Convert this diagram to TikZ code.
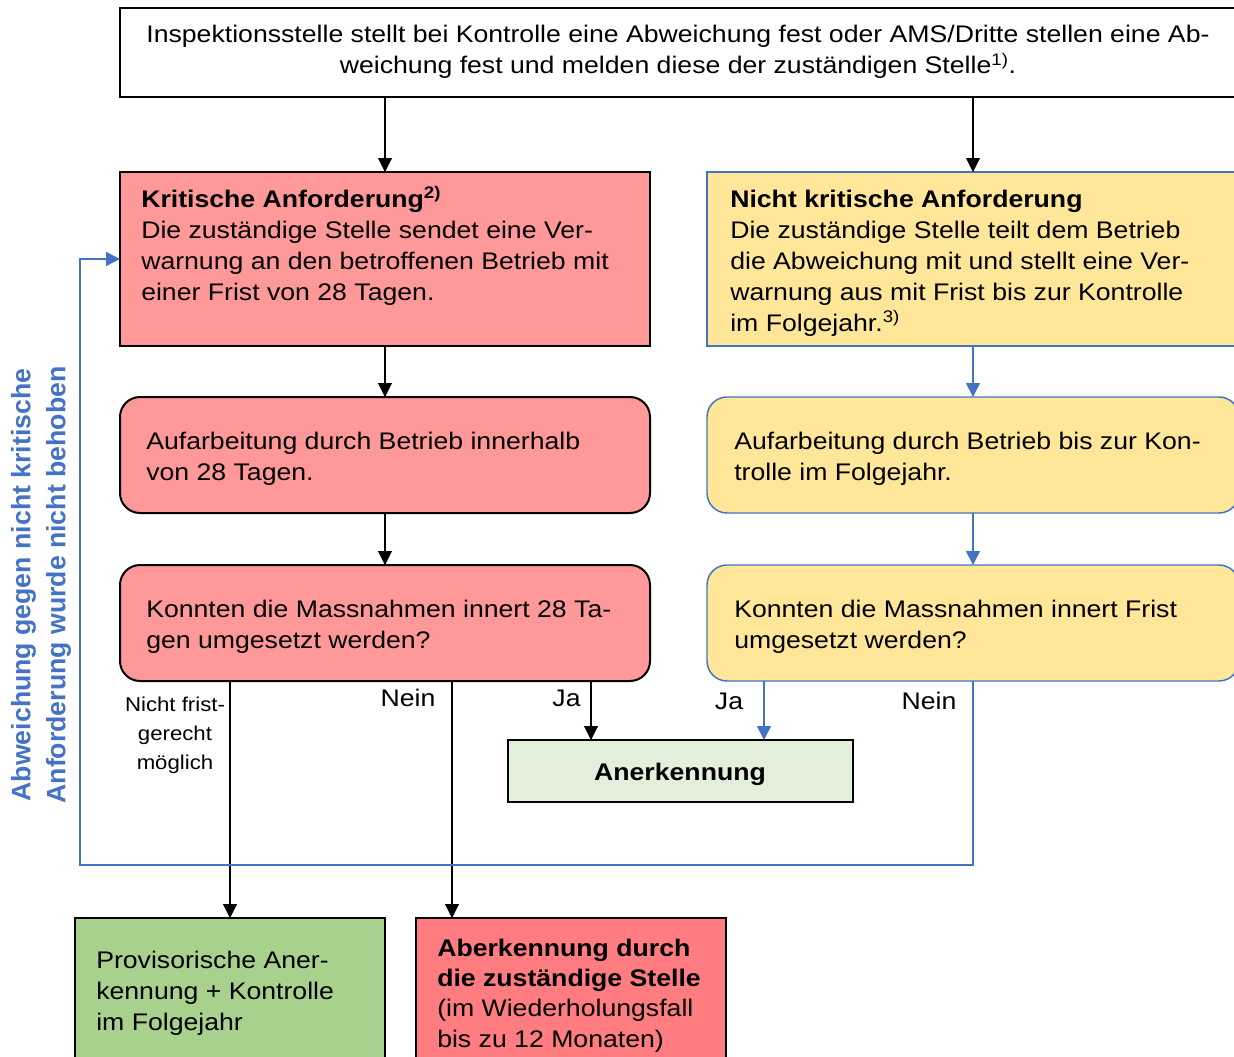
\documentclass[tikz,border=0pt]{standalone}
\usepackage{fontspec}
\setmainfont{Liberation Sans}[FakeStretch=1.11]
\newfontfamily\sidefont{Liberation Sans}
\usetikzlibrary{arrows.meta}
\definecolor{critfill}{HTML}{FF9999}
\definecolor{ncfill}{HTML}{FFE699}
\definecolor{anfill}{HTML}{E2EFDA}
\definecolor{provfill}{HTML}{A9D18E}
\definecolor{aberfill}{HTML}{FF7C80}
\definecolor{msblue}{HTML}{4472C4}
\def\u{0.75pt}
\tikzset{
  mainfont/.style={font=\fontsize{18}{23.25}\selectfont},
  blackbox/.style={draw=black, line width=1.5pt, inner sep=0pt, outer sep=0pt},
  bluebox/.style={draw=msblue, line width=1.1pt, inner sep=0pt, outer sep=0pt},
  roundbox/.style={rounded corners=15pt},
  txt/.style={mainfont, inner sep=0pt, anchor=base west, align=left},
  lbl/.style={mainfont, inner sep=0pt, anchor=base},
  arr/.style={draw=black, line width=0.8pt, -{Triangle[width=10.5pt,length=10.5pt]}},
  barr/.style={draw=msblue, line width=1.1pt, -{Triangle[width=10.5pt,length=10.5pt]}},
}
\begin{document}
\begin{tikzpicture}[x=0.75pt,y=-0.75pt]
\useasboundingbox (0,0) rectangle (1234,1056);
\clip (0,0) rectangle (1234,1056);
\fill[white] (0,0) rectangle (1234,1056);

% boxes
\node[blackbox, fill=white, minimum width=1118*\u, minimum height=89*\u] (top) at (679,52.5) {};
\node[blackbox, fill=critfill, minimum width=530*\u, minimum height=174*\u] (krit) at (385,259) {};
\node[bluebox, fill=ncfill, minimum width=532*\u, minimum height=174*\u] (nkrit) at (973,259) {};
\node[blackbox, roundbox, fill=critfill, minimum width=530*\u, minimum height=116*\u] (auf1) at (385,455) {};
\node[bluebox, roundbox, fill=ncfill, minimum width=532*\u, minimum height=116*\u] (auf2) at (973,455) {};
\node[blackbox, roundbox, fill=critfill, minimum width=530*\u, minimum height=116*\u] (kon1) at (385,623) {};
\node[bluebox, roundbox, fill=ncfill, minimum width=532*\u, minimum height=116*\u] (kon2) at (973,623) {};
\node[blackbox, fill=anfill, minimum width=345*\u, minimum height=62*\u] (aner) at (680.5,771) {};
\node[blackbox, fill=provfill, minimum width=310*\u, minimum height=160*\u] (prov) at (230,998) {};
\node[blackbox, fill=aberfill, minimum width=310*\u, minimum height=160*\u] (aber) at (571,998) {};

% texts (base anchor = last line baseline)
\node[lbl, align=center] (toptext) at (678,74) {Inspektionsstelle stellt bei Kontrolle eine Abweichung fest oder AMS/Dritte stellen eine Ab-\\weichung fest und melden diese der zuständigen Stelle\textsuperscript{1)}.};
\node[txt] (krittext) at (141,300) {\textbf{Kritische Anforderung\textsuperscript{2)}}\\Die zuständige Stelle sendet eine Ver-\\warnung an den betroffenen Betrieb mit\\einer Frist von 28 Tagen.};
\node[txt] (nkrittext) at (730,331) {\textbf{Nicht kritische Anforderung}\\Die zuständige Stelle teilt dem Betrieb\\die Abweichung mit und stellt eine Ver-\\warnung aus mit Frist bis zur Kontrolle\\im Folgejahr.\textsuperscript{3)}};
\node[txt] (auf1text) at (146,480) {Aufarbeitung durch Betrieb innerhalb\\von 28 Tagen.};
\node[txt] (auf2text) at (734,480) {Aufarbeitung durch Betrieb bis zur Kon-\\trolle im Folgejahr.};
\node[txt] (kon1text) at (146,648) {Konnten die Massnahmen innert 28 Ta-\\gen umgesetzt werden?};
\node[txt] (kon2text) at (734,648) {Konnten die Massnahmen innert Frist\\umgesetzt werden?};
\node[lbl] (anertext) at (680,780) {\textbf{Anerkennung}};
\node[txt] (provtext) at (96,1030) {Provisorische Aner-\\kennung + Kontrolle\\im Folgejahr};
\node[txt, font=\fontsize{18}{22.75}\selectfont] (abertext) at (437,1047) {\textbf{Aberkennung durch}\\\textbf{die zuständige Stelle}\\(im Wiederholungsfall\\bis zu 12 Monaten)};

% branch labels
\node[lbl, align=center, font=\fontsize{15}{21.75}\selectfont] (lnf) at (175,769) {Nicht frist-\\gerecht\\möglich};
\node[lbl] (lnein1) at (408,706) {Nein};
\node[lbl] (lja1) at (566.5,706) {Ja};
\node[lbl] (lja2) at (729,709) {Ja};
\node[lbl] (lnein2) at (929,709) {Nein};

\node[font=\sidefont\fontsize{20}{26.25}\selectfont\bfseries, text=msblue, rotate=90, align=center, inner sep=0pt] (side) at (41,585) {Abweichung gegen nicht kritische\\Anforderung wurde nicht behoben};

% connectors
\draw[arr] (top.south -| krit.north) -- (krit.north);
\draw[arr] (top.south -| nkrit.north) -- (nkrit.north);
\draw[arr] (krit.south) -- (auf1.north);
\draw[arr] (auf1.south) -- (kon1.north);
\draw[barr] (nkrit.south) -- (auf2.north);
\draw[barr] (auf2.south) -- (kon2.north);
\coordinate (xnein) at (452,0);
\coordinate (xja1) at (591,0);
\coordinate (xja2) at (764,0);
\draw[arr] (kon1.south -| prov.north) -- (prov.north);
\draw[arr] (kon1.south -| xnein) -- (aber.north -| xnein);
\draw[arr] (kon1.south -| xja1) -- (aner.north -| xja1);
\draw[barr] (kon2.south -| xja2) -- (aner.north -| xja2);
\coordinate (loop) at (80,865);
\draw[barr] (kon2.south) |- (loop) |- (krit.west);
\end{tikzpicture}
\end{document}
